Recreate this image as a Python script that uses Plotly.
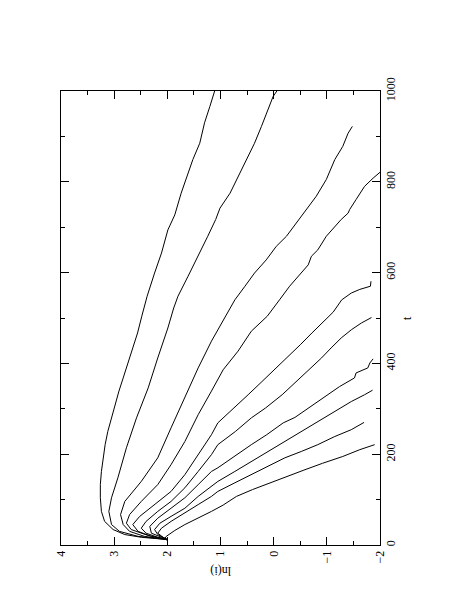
import plotly.graph_objects as go

# each decay curve: time t and ln(i)
t_1 = [12, 17, 23, 34, 52, 74, 104, 133, 162, 192, 221, 250, 280, 309, 339, 368, 401, 434, 467,
       504, 548, 599, 643, 694, 727, 775, 819, 849, 885, 930, 966, 1000]
ln_1 = [2.0, 2.49, 2.80, 3.02, 3.18, 3.24, 3.26, 3.26, 3.24, 3.21, 3.17, 3.12, 3.05, 2.99, 2.91, 2.83,
        2.74, 2.65, 2.56, 2.48, 2.38, 2.24, 2.11, 1.99, 1.86, 1.74, 1.61, 1.52, 1.39, 1.30, 1.20, 1.11]

t_2 = [12, 19, 30, 45, 74, 104, 148, 214, 280, 346, 412, 478, 522, 548, 592, 636, 680, 717, 742,
       775, 819, 849, 885, 922, 959, 988, 1000]
ln_2 = [2.0, 2.55, 2.90, 3.05, 3.10, 3.05, 2.93, 2.77, 2.58, 2.36, 2.18, 1.99, 1.88, 1.80, 1.61, 1.42,
        1.24, 1.09, 1.01, 0.82, 0.63, 0.51, 0.36, 0.23, 0.11, 0.01, -0.06]

t_3 = [12, 19, 30, 45, 67, 96, 140, 192, 258, 324, 390, 449, 493, 511, 540, 570, 599, 628, 658,
       680, 709, 739, 768, 805, 849, 878, 907, 922]
ln_3 = [2.0, 2.43, 2.71, 2.83, 2.88, 2.80, 2.49, 2.18, 1.93, 1.67, 1.42, 1.17, 0.95, 0.86, 0.73, 0.54,
        0.36, 0.14, -0.05, -0.24, -0.43, -0.61, -0.80, -0.99, -1.15, -1.30, -1.40, -1.48]

t_4 = [12, 21, 34, 48, 67, 96, 133, 177, 228, 287, 339, 386, 427, 471, 504, 522, 540, 570, 599,
       617, 636, 650, 680, 702, 717, 731, 739, 761, 790, 808, 823]
ln_4 = [2.0, 2.36, 2.68, 2.77, 2.71, 2.49, 2.18, 1.93, 1.67, 1.42, 1.17, 0.95, 0.67, 0.42, 0.12, 0.0,
        -0.11, -0.30, -0.52, -0.65, -0.71, -0.83, -0.99, -1.15, -1.27, -1.40, -1.43, -1.55, -1.71,
        -1.87, -2.02]

t_5 = [12, 19, 30, 45, 63, 89, 118, 155, 199, 243, 269, 300, 331, 360, 390, 420, 441, 467, 489,
       513, 540, 555, 563, 570, 581]
ln_5 = [2.0, 2.30, 2.55, 2.65, 2.52, 2.24, 1.93, 1.67, 1.42, 1.17, 1.05, 0.76, 0.48, 0.22, -0.05,
        -0.31, -0.50, -0.72, -0.92, -1.12, -1.28, -1.46, -1.62, -1.82, -1.83]

t_6 = [12, 17, 26, 37, 52, 74, 96, 126, 162, 199, 221, 250, 280, 302, 331, 368, 386, 412, 434,
       456, 474, 489, 501]
ln_6 = [2.0, 2.18, 2.40, 2.49, 2.40, 2.18, 1.93, 1.67, 1.42, 1.17, 1.05, 0.72, 0.42, 0.15, -0.16,
        -0.50, -0.68, -0.90, -1.08, -1.27, -1.46, -1.65, -1.84]

t_7 = [12, 17, 26, 41, 59, 81, 104, 133, 162, 170, 199, 221, 243, 269, 281, 294, 316, 339, 349,
       368, 379, 390, 401, 410]
ln_7 = [2.0, 2.11, 2.30, 2.33, 2.18, 1.93, 1.67, 1.42, 1.17, 1.05, 0.70, 0.42, 0.13, -0.18, -0.40,
        -0.56, -0.83, -1.12, -1.24, -1.52, -1.55, -1.77, -1.81, -1.87]

t_8 = [12, 15, 23, 34, 48, 63, 81, 107, 129, 140, 162, 184, 206, 228, 250, 272, 294, 316, 331, 341]
ln_8 = [2.0, 2.05, 2.18, 2.24, 2.14, 1.93, 1.67, 1.42, 1.17, 1.05, 0.73, 0.42, 0.11, -0.21, -0.52,
        -0.83, -1.15, -1.46, -1.71, -1.86]

t_9 = [12, 17, 26, 37, 52, 70, 89, 107, 118, 137, 155, 173, 192, 206, 221, 239, 254, 270]
ln_9 = [2.0, 2.08, 2.18, 2.11, 1.93, 1.67, 1.42, 1.17, 1.05, 0.73, 0.42, 0.11, -0.21, -0.52, -0.83,
        -1.15, -1.46, -1.70]

t_10 = [10, 14, 19, 32, 45, 59, 74, 88, 107, 122, 137, 151, 165, 180, 195, 210, 221]
ln_10 = [2.0, 2.05, 2.02, 1.86, 1.67, 1.42, 1.17, 0.95, 0.70, 0.40, 0.07, -0.25, -0.57, -0.92,
         -1.30, -1.62, -1.90]

curves = [(t_1, ln_1), (t_2, ln_2), (t_3, ln_3), (t_4, ln_4), (t_5, ln_5),
          (t_6, ln_6), (t_7, ln_7), (t_8, ln_8), (t_9, ln_9), (t_10, ln_10)]

ln_ticks = [4, 3, 2, 1, 0, -1, -2]
t_ticks = [0, 200, 400, 600, 800, 1000]

SERIF = "Liberation Serif, Times New Roman, serif"

fig = go.Figure()
for t, ln in curves:
    # page is turned: ln(i) runs along the bottom, t up the right side
    fig.add_trace(go.Scatter(x=ln, y=t, mode="lines",
                             line=dict(color="black", width=1), showlegend=False))

axis_common = dict(
    showgrid=False, zeroline=False,
    showline=True, linecolor="black", linewidth=1, mirror="allticks",
    ticks="inside", ticklen=8, tickwidth=1, tickcolor="black",
    tickangle=-90,
    tickfont=dict(family=SERIF, size=12, color="black"),
)

fig.update_xaxes(
    range=[4, -2], tickvals=ln_ticks,
    minor=dict(dtick=0.5, ticks="inside", ticklen=4, tickcolor="black", showgrid=False),
    **axis_common
)
fig.update_yaxes(
    range=[0, 1000], side="right", tickvals=t_ticks,
    minor=dict(dtick=100, ticks="inside", ticklen=4, tickcolor="black", showgrid=False),
    **axis_common
)

fig.add_annotation(text="ln(i)", xref="paper", yref="paper", x=0.5, y=-0.077,
                   showarrow=False, textangle=180,
                   font=dict(family=SERIF, size=12, color="black"))
fig.add_annotation(text="t", xref="paper", yref="paper", x=1.113, y=0.5,
                   showarrow=False, textangle=-90,
                   font=dict(family=SERIF, size=12, color="black"))

fig.update_layout(
    width=453, height=605,
    margin=dict(l=53, r=81, t=83, b=68),
    plot_bgcolor="white", paper_bgcolor="white",
)

fig.write_html("out.html")
